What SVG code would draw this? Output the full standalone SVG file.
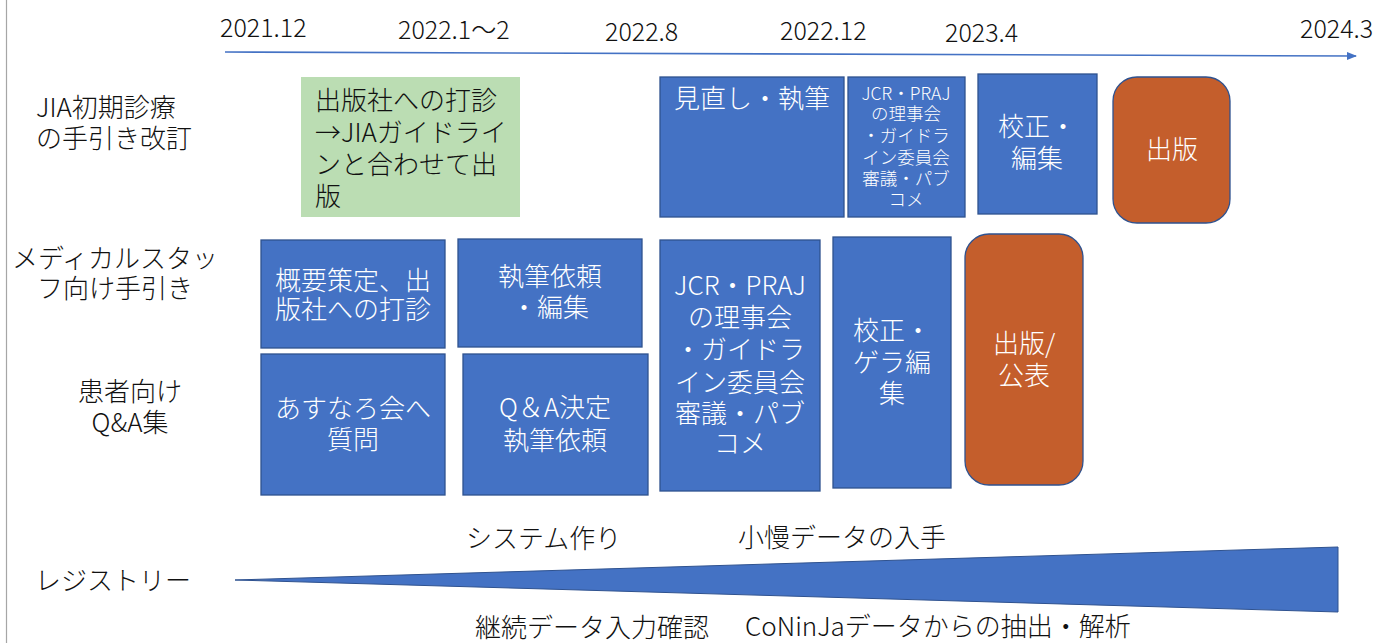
<svg xmlns="http://www.w3.org/2000/svg" width="1378" height="643" viewBox="0 0 1378 643">
<defs>
<style>
text{font-family:"Noto Sans CJK JP","Noto Sans",sans-serif;font-weight:300}
.lbl{font-size:26px;fill:#111}
.date{font-size:25px;fill:#111}
.w{font-size:26px;fill:#fff}
.ws{font-size:17.5px;fill:#fff}
.b{font-size:26px;fill:#111}
.blue{fill:#4472C4;stroke:#2F528F;stroke-width:1.3}
.orange{fill:#C45E2C;stroke:#2F528F;stroke-width:1.3}
.green{fill:#BBDDB3}
</style>
<marker id="ah" markerWidth="10" markerHeight="8" refX="9" refY="4" orient="auto" markerUnits="userSpaceOnUse">
<path d="M0,0 L10,4 L0,8 Z" fill="#4472C4"/>
</marker>
</defs>
<rect width="1378" height="643" fill="#fff"/>
<line x1="6.5" y1="0" x2="6.5" y2="643" stroke="#A6A6A6" stroke-width="1.2"/>

<g id="dates">
<text class="date" x="220" y="37">2021.12</text>
<text class="date" x="398" y="39">2022.1～2</text>
<text class="date" x="605" y="41">2022.8</text>
<text class="date" x="780" y="40">2022.12</text>
<text class="date" x="945" y="42">2023.4</text>
<text class="date" x="1300" y="38">2024.3</text>
</g>

<g id="connectors">
<line x1="225" y1="52" x2="1356" y2="56" stroke="#4472C4" stroke-width="1.6" marker-end="url(#ah)"/>
</g>

<g id="row-labels">
<text class="lbl" x="36" y="117">JIA初期診療</text>
<text class="lbl" x="36" y="148">の手引き改訂</text>
<text class="lbl" x="115" y="268" text-anchor="middle">メディカルスタッ</text>
<text class="lbl" x="115" y="298" text-anchor="middle">フ向け手引き</text>
<text class="lbl" x="130" y="401" text-anchor="middle">患者向け</text>
<text class="lbl" x="130" y="432" text-anchor="middle">Q&amp;A集</text>
<text class="lbl" x="35" y="590">レジストリー</text>
</g>

<g id="n-green">
<rect class="green" x="301" y="77" width="219" height="140"/>
<text class="b" x="315" y="110">出版社への打診</text>
<text class="b" x="315" y="142">→JIAガイドライ</text>
<text class="b" x="315" y="174">ンと合わせて出</text>
<text class="b" x="315" y="206">版</text>
</g>

<g id="n-minaoshi">
<rect class="blue" x="660" y="77" width="184" height="140"/>
<text class="w" x="752" y="108" text-anchor="middle">見直し・執筆</text>
</g>

<g id="n-jcr-small">
<rect class="blue" x="848" y="77" width="117" height="140"/>
<text class="ws" x="906" y="100" text-anchor="middle">JCR・PRAJ</text>
<text class="ws" x="906" y="120" text-anchor="middle">の理事会</text>
<text class="ws" x="906" y="142" text-anchor="middle">・ガイドラ</text>
<text class="ws" x="906" y="164" text-anchor="middle">イン委員会</text>
<text class="ws" x="906" y="185" text-anchor="middle">審議・パブ</text>
<text class="ws" x="906" y="206" text-anchor="middle">コメ</text>
</g>

<g id="n-kosei1">
<rect class="blue" x="978" y="74" width="119" height="140"/>
<text class="w" x="1037" y="136" text-anchor="middle">校正・</text>
<text class="w" x="1037" y="168" text-anchor="middle">編集</text>
</g>

<g id="n-shuppan1">
<rect class="orange" x="1113" y="77" width="117" height="146" rx="24" ry="24"/>
<text class="w" x="1172" y="159" text-anchor="middle">出版</text>
</g>

<g id="n-gaiyo">
<rect class="blue" x="261" y="240" width="184" height="108"/>
<text class="w" x="353" y="290" text-anchor="middle">概要策定、出</text>
<text class="w" x="353" y="319" text-anchor="middle">版社への打診</text>
</g>

<g id="n-shippitsu">
<rect class="blue" x="458" y="239" width="184" height="108"/>
<text class="w" x="550" y="286" text-anchor="middle">執筆依頼</text>
<text class="w" x="550" y="317" text-anchor="middle">・編集</text>
</g>

<g id="n-asunaro">
<rect class="blue" x="261" y="354" width="184" height="141"/>
<text class="w" x="353" y="418" text-anchor="middle">あすなろ会へ</text>
<text class="w" x="353" y="449" text-anchor="middle">質問</text>
</g>

<g id="n-qa">
<rect class="blue" x="463" y="354" width="185" height="141"/>
<text class="w" x="555" y="417" text-anchor="middle">Q＆A決定</text>
<text class="w" x="555" y="450" text-anchor="middle">執筆依頼</text>
</g>

<g id="n-jcr-large">
<rect class="blue" x="660" y="240" width="160" height="251"/>
<text class="w" x="740" y="295" text-anchor="middle">JCR・PRAJ</text>
<text class="w" x="740" y="327" text-anchor="middle">の理事会</text>
<text class="w" x="740" y="359" text-anchor="middle">・ガイドラ</text>
<text class="w" x="740" y="392" text-anchor="middle">イン委員会</text>
<text class="w" x="740" y="423" text-anchor="middle">審議・パブ</text>
<text class="w" x="740" y="453" text-anchor="middle">コメ</text>
</g>

<g id="n-kosei2">
<rect class="blue" x="833" y="237" width="118" height="251"/>
<text class="w" x="892" y="340" text-anchor="middle">校正・</text>
<text class="w" x="892" y="372" text-anchor="middle">ゲラ編</text>
<text class="w" x="892" y="403" text-anchor="middle">集</text>
</g>

<g id="n-shuppan2">
<rect class="orange" x="965" y="234" width="118" height="251" rx="24" ry="24"/>
<text class="w" x="1024" y="353" text-anchor="middle">出版/</text>
<text class="w" x="1024" y="385" text-anchor="middle">公表</text>
</g>

<g id="registry">
<polygon points="235,580 1338,547 1338,612" fill="#4472C4" stroke="#2F528F" stroke-width="1"/>
<text class="lbl" x="466" y="548">システム作り</text>
<text class="lbl" x="738" y="547">小慢データの入手</text>
<text class="lbl" x="475" y="637">継続データ入力確認</text>
<text class="lbl" x="745" y="636">CoNinJaデータからの抽出・解析</text>
</g>
</svg>
